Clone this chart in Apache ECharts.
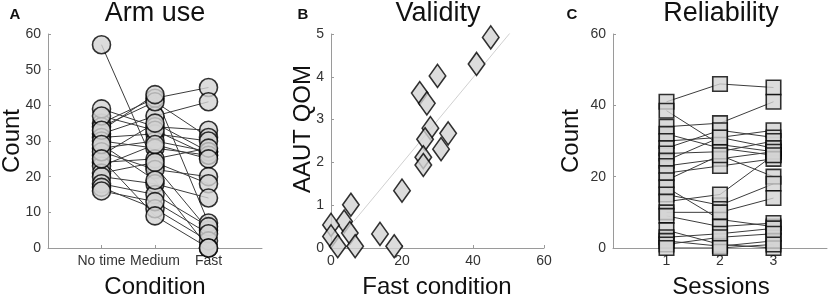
<!DOCTYPE html>
<html><head><meta charset="utf-8">
<script src="https://cdn.jsdelivr.net/npm/echarts@6/dist/echarts.min.js"></script>
<style>html,body{margin:0;padding:0;background:#fff}#c{width:829px;height:304px}</style>
</head><body><div id="c"></div>
<script>
// ---- Panel A: Arm use (one entry per subject) ----
const conditions = ['No time', 'Medium', 'Fast'];
const armNoTime = [57, 35, 32, 39, 34, 31, 28, 37, 26, 30, 24, 23, 33, 27, 21, 20, 18, 17, 16, 29, 25];
const armMedium = [23, 42, 37, 34, 41, 32, 30, 33, 35, 28, 25, 29, 43, 22, 24, 18, 15, 11, 13, 19, 9];
const armFast   = [5, 45, 41, 33, 31, 30, 27, 26, 27, 26, 28, 25, 7, 20, 18, 14, 6, 2, 4, 0, 0];
const countTicksA = [0, 10, 20, 30, 40, 50, 60];

// ---- Panel B: Validity ----
const fastCondition = [45, 41, 30, 25, 27, 28, 26.5, 33, 31, 26, 26, 20, 5.6, 3.7, 0, 5.3, 0, 13.8, 1.9, 6.8, 17.8];
const aautQom       = [4.92, 4.3, 4.02, 3.62, 3.38, 2.8, 2.54, 2.68, 2.31, 2.12, 1.94, 1.34, 1.01, 0.62, 0.54, 0.35, 0.27, 0.33, 0.04, 0.04, 0.04];
const fitX = [6.5, 50.5];
const fitY = [0.63, 5.03];
const fastTicks = [0, 20, 40, 60];
const qomTicks = [0, 1, 2, 3, 4, 5];

// ---- Panel C: Reliability ----
const sessions = ['1', '2', '3'];
const session1 = [41, 38.5, 34, 32, 30, 28, 26.5, 24.5, 23, 21, 19, 17, 15, 13, 10, 9, 5, 3, 2, 1, 0];
const session2 = [46, 29, 35, 28, 31, 33, 27, 31, 25, 23, 26, 8, 12, 15, 10, 6, 1, 4, 0.5, 3, 0];
const session3 = [45, 27, 41, 26, 33, 31, 30, 28, 27, 25, 20, 6, 18, 26, 14, 7, 0, 5.5, 2, 4, 1];
const countTicksC = [0, 20, 40, 60];

const FONT = '"Liberation Sans", Arial, sans-serif';
const AX = '#9a9a9a';
const marker = { color: '#d3d3d3', borderColor: '#000', borderWidth: 1.6 };
const lineCol = '#3c3c3c';

function xCat(grid, labels) {
  return {
    gridIndex: grid, type: 'value', min: 0, max: 4, interval: 1,
    axisLine: { show: true, lineStyle: { color: AX, width: 1 } },
    axisTick: { show: true, inside: true, length: 3, customValues: [1, 2, 3], lineStyle: { color: AX } },
    axisLabel: { customValues: [1, 2, 3], formatter: v => labels[v - 1] || '', color: '#333', fontSize: 14, fontFamily: FONT, margin: 6 },
    splitLine: { show: false }
  };
}
function yVal(grid, ticks) {
  return {
    gridIndex: grid, type: 'value', min: ticks[0], max: ticks[ticks.length - 1], interval: ticks[1] - ticks[0],
    axisLine: { show: true, lineStyle: { color: AX, width: 1 } },
    axisTick: { show: true, inside: true, length: 3, lineStyle: { color: AX } },
    axisLabel: { color: '#333', fontSize: 14, fontFamily: FONT, margin: 7 },
    splitLine: { show: false }
  };
}

const series = [];
// Panel A lines + markers
armNoTime.forEach((v, i) => {
  series.push({ type: 'line', xAxisIndex: 0, yAxisIndex: 0, symbol: 'none', silent: true, z: 2,
    lineStyle: { color: lineCol, width: 1 },
    data: [[1, v], [2, armMedium[i]], [3, armFast[i]]] });
});
const armPts = [];
armNoTime.forEach((v, i) => { armPts.push([1, v], [2, armMedium[i]], [3, armFast[i]]); });
series.push({ type: 'scatter', xAxisIndex: 0, yAxisIndex: 0, symbol: 'circle', symbolSize: 18, clip: false, z: 3,
  itemStyle: marker, data: armPts });

// Panel B
series.push({ type: 'line', xAxisIndex: 1, yAxisIndex: 1, symbol: 'none', silent: true, z: 2,
  lineStyle: { color: '#d0d0d0', width: 1 }, data: fitX.map((x, i) => [x, fitY[i]]) });
series.push({ type: 'scatter', xAxisIndex: 1, yAxisIndex: 1, symbol: 'diamond', symbolSize: [16.5, 23], clip: false, z: 3,
  itemStyle: marker, data: fastCondition.map((x, i) => [x, aautQom[i]]) });

// Panel C
session1.forEach((v, i) => {
  series.push({ type: 'line', xAxisIndex: 2, yAxisIndex: 2, symbol: 'none', silent: true, z: 2,
    lineStyle: { color: lineCol, width: 1 },
    data: [[1, v], [2, session2[i]], [3, session3[i]]] });
});
const sesPts = [];
session1.forEach((v, i) => { sesPts.push([1, v], [2, session2[i]], [3, session3[i]]); });
series.push({ type: 'scatter', xAxisIndex: 2, yAxisIndex: 2, symbol: 'rect', symbolSize: 14.5, clip: false, z: 3,
  itemStyle: marker, data: sesPts });

function txt(text, x, y, size, opts) {
  return Object.assign({ type: 'text', x: x, y: y, silent: true,
    style: { text: text, x: 0, y: 0, fill: '#111', font: (opts && opts.bold ? 'bold ' : '') + size + 'px ' + FONT,
      textAlign: 'center', textVerticalAlign: 'middle' } }, opts && opts.rot ? { rotation: Math.PI / 2 } : {});
}

const option = {
  animation: false,
  backgroundColor: '#fff',
  grid: [
    { left: 48, top: 34, width: 214, height: 214 },
    { left: 331, top: 34, width: 213, height: 214 },
    { left: 613, top: 34, width: 214, height: 214 }
  ],
  xAxis: [
    xCat(0, conditions),
    { gridIndex: 1, type: 'value', min: fastTicks[0], max: fastTicks[fastTicks.length - 1], interval: fastTicks[1] - fastTicks[0],
      axisLine: { show: true, lineStyle: { color: AX, width: 1 } },
      axisTick: { show: true, inside: true, length: 3, lineStyle: { color: AX } },
      axisLabel: { color: '#333', fontSize: 14, fontFamily: FONT, margin: 6 },
      splitLine: { show: false } },
    xCat(2, sessions)
  ],
  yAxis: [yVal(0, countTicksA), yVal(1, qomTicks), yVal(2, countTicksC)],
  series: series,
  graphic: [
    txt('A', 15, 15, 15, { bold: true }),
    txt('B', 303, 15, 15, { bold: true }),
    txt('C', 572, 15, 15, { bold: true }),
    txt('Arm use', 155, 14, 27),
    txt('Validity', 438, 14, 27),
    txt('Reliability', 721, 14, 27),
    txt('Condition', 155, 287, 24),
    txt('Fast condition', 437, 287, 24),
    txt('Sessions', 721, 287, 24),
    txt('Count', 12, 141, 24, { rot: true }),
    txt('AAUT QOM', 303, 129, 24, { rot: true }),
    txt('Count', 571, 141, 24, { rot: true })
  ]
};
const chart = echarts.init(document.getElementById('c'), null, { renderer: 'canvas' });
chart.setOption(option);
</script></body></html>
